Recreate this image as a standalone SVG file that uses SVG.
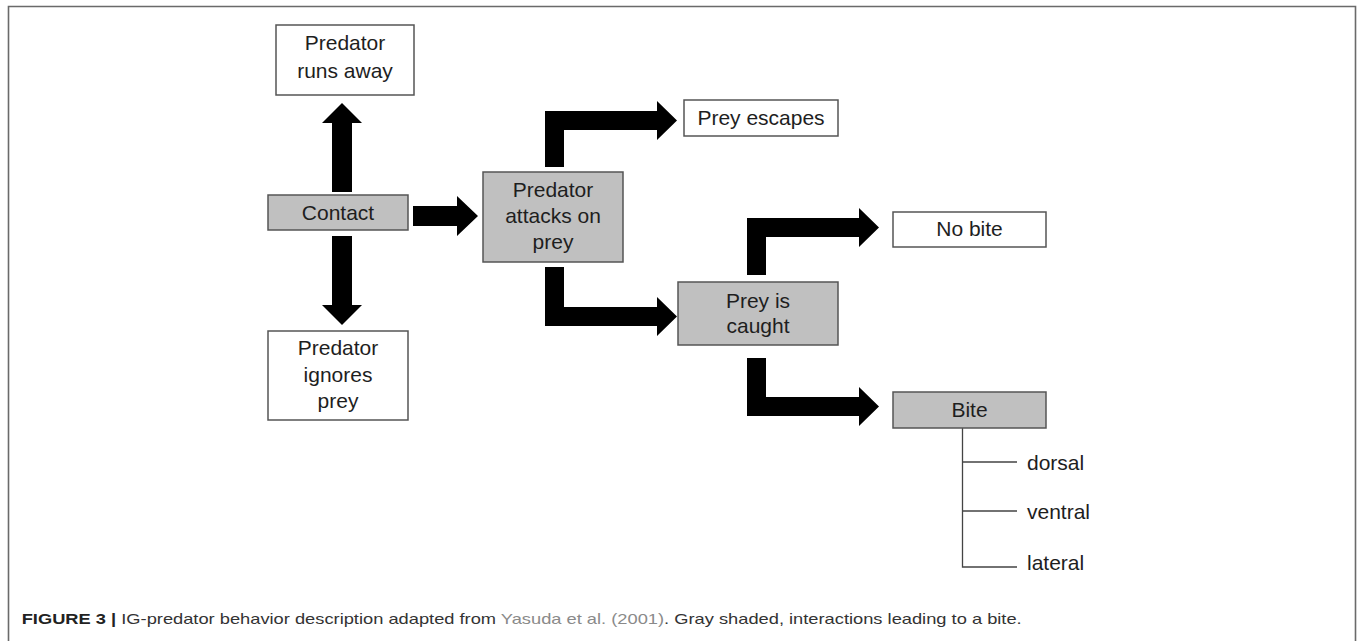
<svg xmlns="http://www.w3.org/2000/svg" width="1358" height="641" viewBox="0 0 1358 641">
<style>
.box{fill:#ffffff;stroke:#555555;stroke-width:1.5}
.gray{fill:#c0c0c0;stroke:#555555;stroke-width:1.5}
.lbl{font-family:"Liberation Sans",Arial,sans-serif;font-size:21px;fill:#1e1e1e;text-anchor:middle}
.leaf{font-family:"Liberation Sans",Arial,sans-serif;font-size:21px;fill:#1e1e1e}
.arrow{fill:#000000}
.thin{stroke:#444444;stroke-width:1.3;fill:none}
.cap{font-family:"Liberation Sans",Arial,sans-serif;font-size:15px;fill:#333333}
</style>
<rect x="0" y="0" width="1358" height="641" fill="#ffffff"/>
<path d="M8.5,641 V6.5 H1355.5 V641" fill="none" stroke="#6a6a6a" stroke-width="1.6"/>

<g id="connectors">
<polygon class="arrow" points="332,192 332,123 322,123 342,103 362,123 352,123 352,192"/>
<polygon class="arrow" points="332,236 352,236 352,305 362,305 342,325 322,305 332,305"/>
<polygon class="arrow" points="413,206 457,206 457,196 478,216 457,236 457,226 413,226"/>
<polygon class="arrow" points="545,167 545,111 657,111 657,101 677,120.5 657,140 657,130 564,130 564,167"/>
<polygon class="arrow" points="545,267 564,267 564,307 657,307 657,297 677,316.5 657,336 657,326 545,326"/>
<polygon class="arrow" points="747,275 747,218 859,218 859,208 879,227.5 859,247 859,237 766,237 766,275"/>
<polygon class="arrow" points="747,358 766,358 766,397 859,397 859,387 879,406.5 859,426 859,416 747,416"/>
<path class="thin" d="M962.5,428 V567 H1017 M962.5,462 H1017 M962.5,511 H1017"/>
</g>

<g id="runs-away">
<rect class="box" x="276" y="25" width="138" height="70"/>
<text class="lbl" x="345" y="50">Predator</text>
<text class="lbl" x="345" y="78">runs away</text>
</g>
<g id="contact">
<rect class="gray" x="268" y="195" width="140" height="35"/>
<text class="lbl" x="338" y="220">Contact</text>
</g>
<g id="ignores">
<rect class="box" x="268" y="331" width="140" height="89"/>
<text class="lbl" x="338" y="355">Predator</text>
<text class="lbl" x="338" y="382">ignores</text>
<text class="lbl" x="338" y="408">prey</text>
</g>
<g id="attacks">
<rect class="gray" x="483" y="172" width="140" height="90"/>
<text class="lbl" x="553" y="197">Predator</text>
<text class="lbl" x="553" y="223">attacks on</text>
<text class="lbl" x="553" y="249">prey</text>
</g>
<g id="escapes">
<rect class="box" x="684" y="100" width="154" height="36"/>
<text class="lbl" x="761" y="125">Prey escapes</text>
</g>
<g id="caught">
<rect class="gray" x="678" y="282" width="160" height="63"/>
<text class="lbl" x="758" y="308">Prey is</text>
<text class="lbl" x="758" y="333">caught</text>
</g>
<g id="no-bite">
<rect class="box" x="893" y="212" width="153" height="35"/>
<text class="lbl" x="969.5" y="236">No bite</text>
</g>
<g id="bite">
<rect class="gray" x="893" y="392" width="153" height="36"/>
<text class="lbl" x="969.5" y="417">Bite</text>
</g>
<g id="dorsal"><text class="leaf" x="1027" y="470">dorsal</text></g>
<g id="ventral"><text class="leaf" x="1027" y="519">ventral</text></g>
<g id="lateral"><text class="leaf" x="1027" y="570">lateral</text></g>

<g id="caption">
<text class="cap" x="21.7" y="624" textLength="1000" lengthAdjust="spacingAndGlyphs"><tspan font-weight="bold" fill="#222222">FIGURE 3 |</tspan> IG-predator behavior description adapted from <tspan fill="#8a8a8a">Yasuda et al. (2001)</tspan>. Gray shaded, interactions leading to a bite.</text>
</g>
</svg>
